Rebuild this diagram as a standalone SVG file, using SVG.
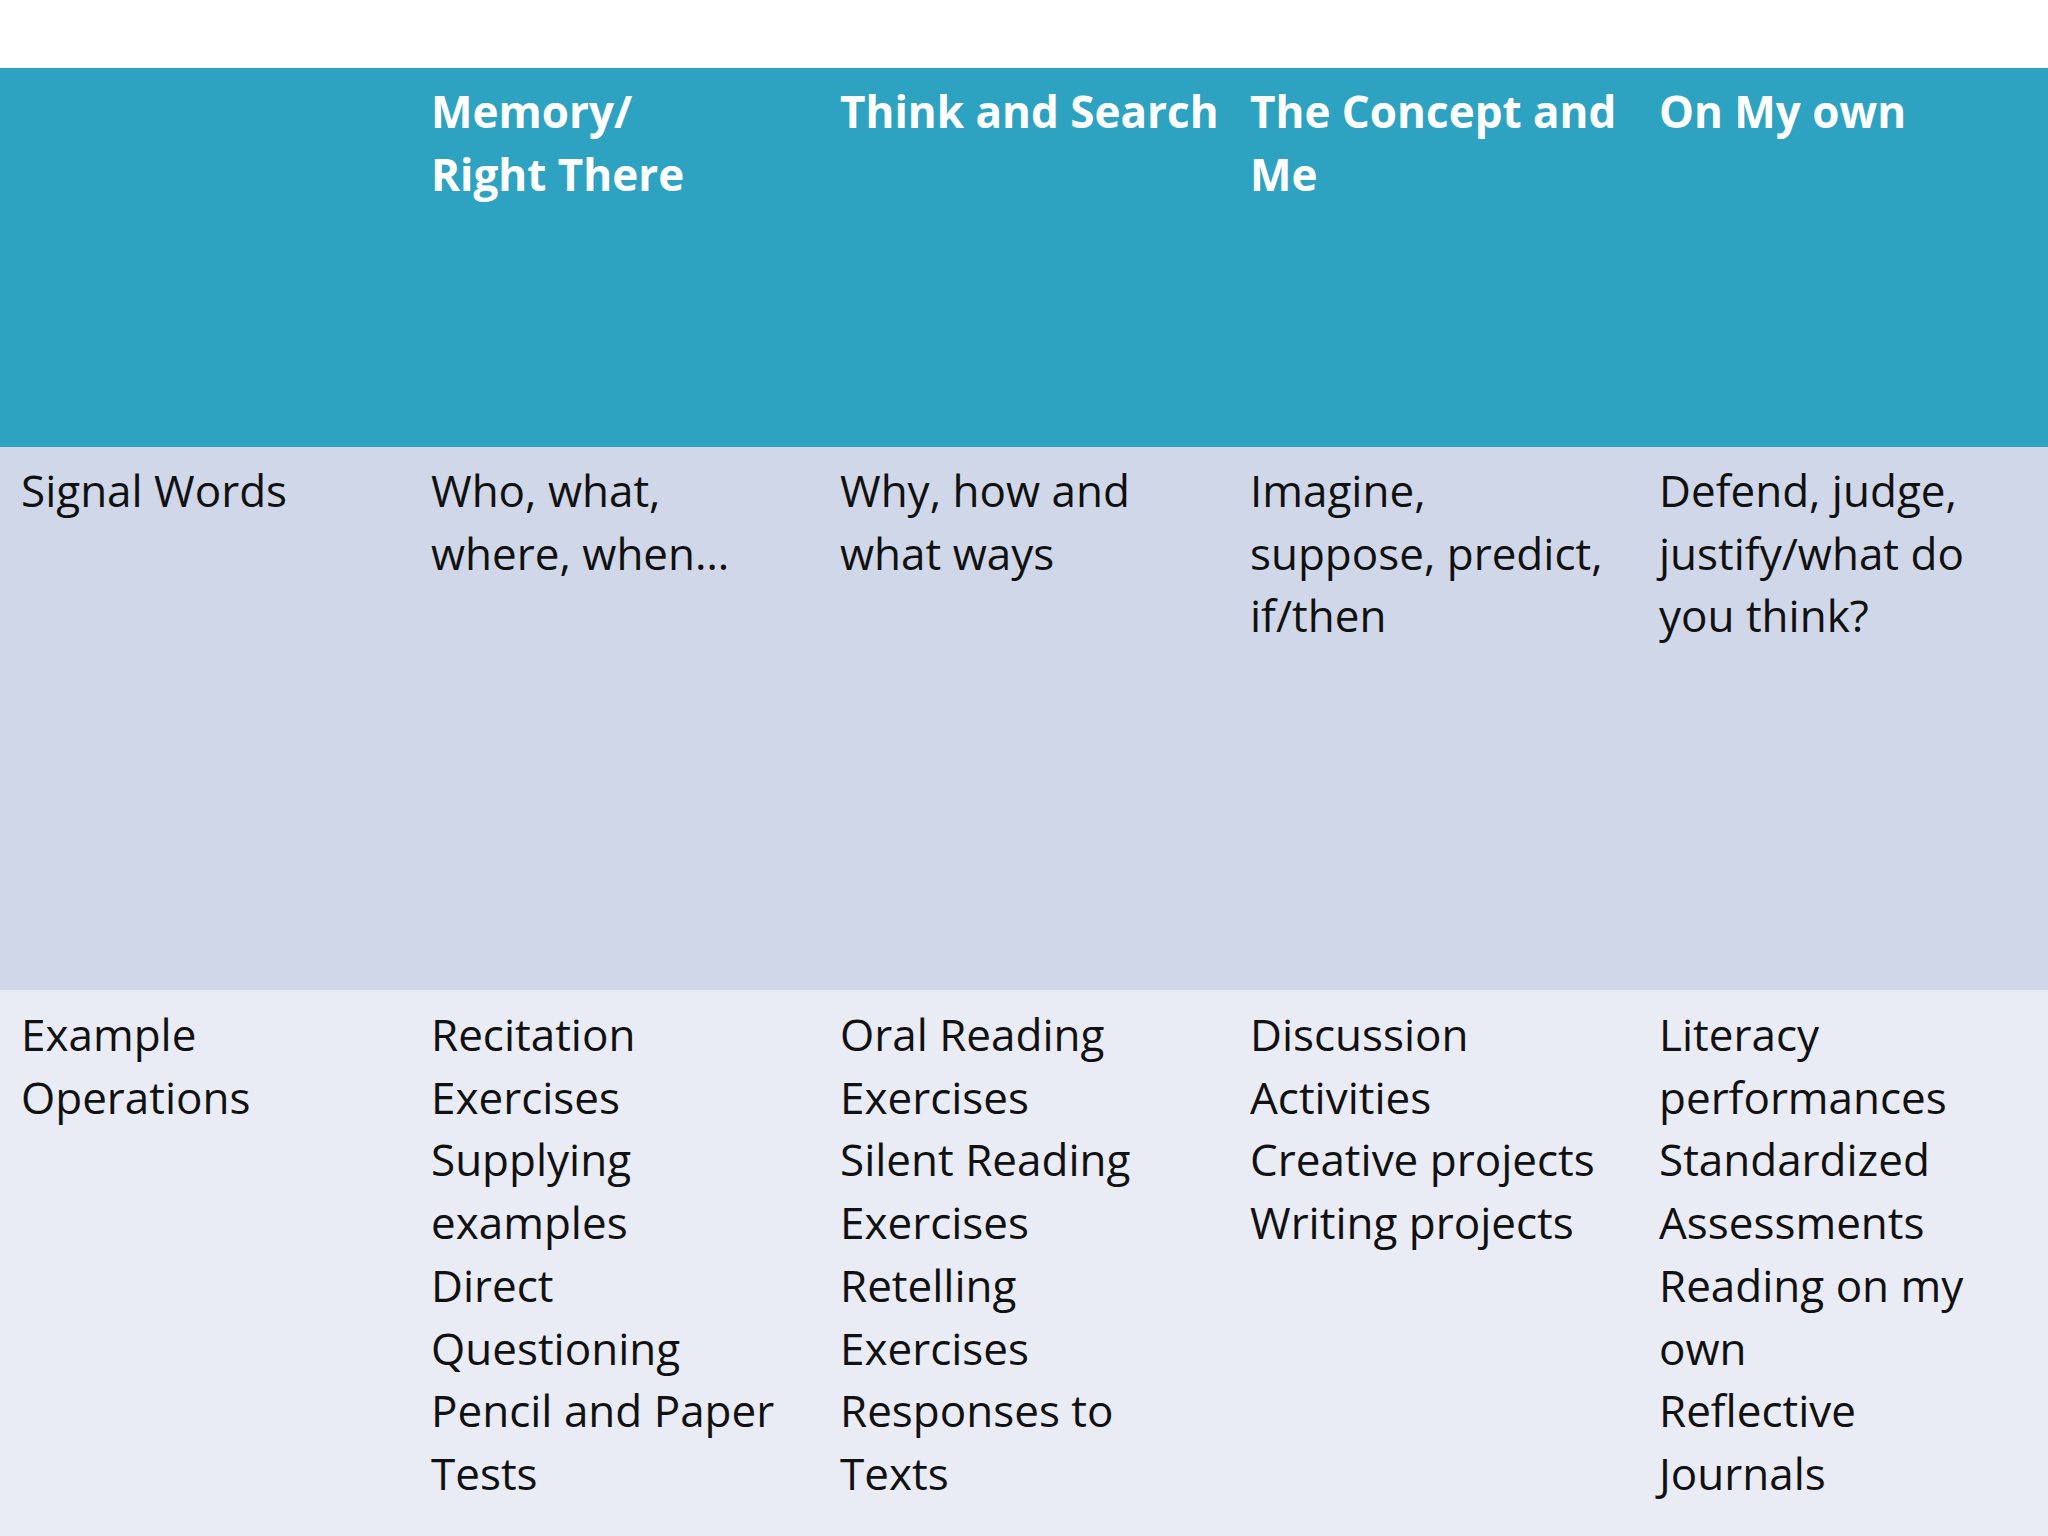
<svg xmlns="http://www.w3.org/2000/svg" width="2048" height="1536" viewBox="0 0 2048 1536">
<style>
text{font-family:"Open Sans","Noto Sans",sans-serif;font-size:44px;fill:#111}
.h{fill:#fff;font-weight:bold}
</style>
<rect width="2048" height="1536" fill="#fff"/>
<rect y="68" width="2048" height="379" fill="#2EA3C1"/>
<rect y="447" width="2048" height="543" fill="#D0D7E8"/>
<rect y="990" width="2048" height="546" fill="#E9EBF5"/>
<g id="header">
<text class="h" x="431" y="128">Memory/<tspan x="431" dy="62.7">Right There</tspan></text>
<text class="h" x="840" y="128">Think and Search</text>
<text class="h" x="1250" y="128">The Concept and<tspan x="1250" dy="62.7">Me</tspan></text>
<text class="h" x="1659" y="128">On My own</text>
</g>
<g id="signal">
<text x="21" y="507">Signal Words</text>
<text x="431" y="507">Who, what,<tspan x="431" dy="62.7">where, when…</tspan></text>
<text x="840" y="507">Why, how and<tspan x="840" dy="62.7">what ways</tspan></text>
<text x="1250" y="507">Imagine,<tspan x="1250" dy="62.7">suppose, predict,</tspan><tspan x="1250" dy="62.7">if/then</tspan></text>
<text x="1659" y="507">Defend, judge,<tspan x="1659" dy="62.7">justify/what do</tspan><tspan x="1659" dy="62.7">you think?</tspan></text>
</g>
<g id="operations">
<text x="21" y="1051">Example<tspan x="21" dy="62.7">Operations</tspan></text>
<text x="431" y="1051">Recitation<tspan x="431" dy="62.7">Exercises</tspan><tspan x="431" dy="62.7">Supplying</tspan><tspan x="431" dy="62.7">examples</tspan><tspan x="431" dy="62.7">Direct</tspan><tspan x="431" dy="62.7">Questioning</tspan><tspan x="431" dy="62.7">Pencil and Paper</tspan><tspan x="431" dy="62.7">Tests</tspan></text>
<text x="840" y="1051">Oral Reading<tspan x="840" dy="62.7">Exercises</tspan><tspan x="840" dy="62.7">Silent Reading</tspan><tspan x="840" dy="62.7">Exercises</tspan><tspan x="840" dy="62.7">Retelling</tspan><tspan x="840" dy="62.7">Exercises</tspan><tspan x="840" dy="62.7">Responses to</tspan><tspan x="840" dy="62.7">Texts</tspan></text>
<text x="1250" y="1051">Discussion<tspan x="1250" dy="62.7">Activities</tspan><tspan x="1250" dy="62.7">Creative projects</tspan><tspan x="1250" dy="62.7">Writing projects</tspan></text>
<text x="1659" y="1051">Literacy<tspan x="1659" dy="62.7">performances</tspan><tspan x="1659" dy="62.7">Standardized</tspan><tspan x="1659" dy="62.7">Assessments</tspan><tspan x="1659" dy="62.7">Reading on my</tspan><tspan x="1659" dy="62.7">own</tspan><tspan x="1659" dy="62.7">Reflective</tspan><tspan x="1659" dy="62.7">Journals</tspan></text>
</g>
</svg>
